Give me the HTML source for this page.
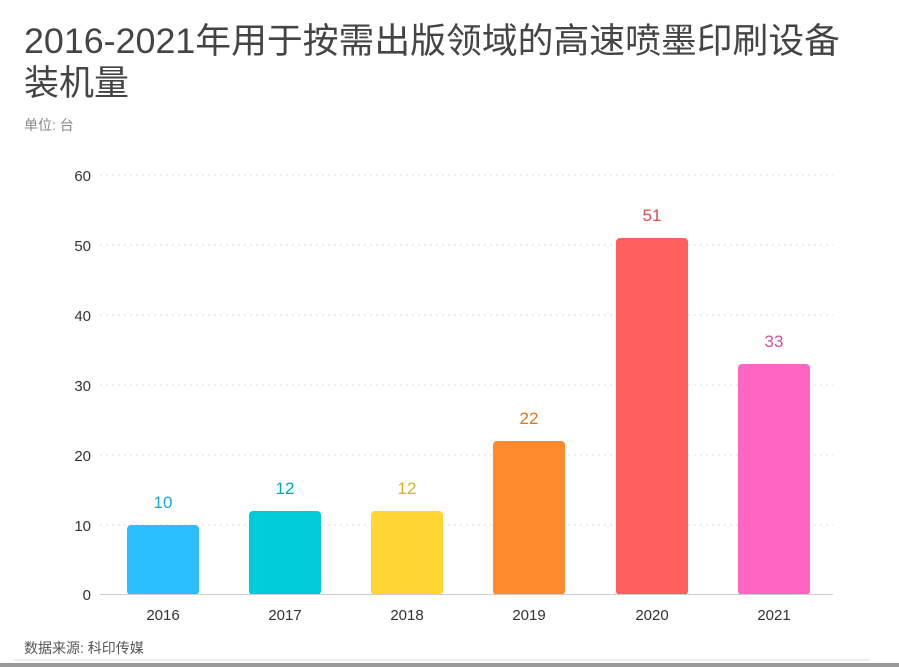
<!DOCTYPE html>
<html><head><meta charset="utf-8"><style>
body{margin:0;width:899px;height:667px;background:#fff;overflow:hidden;font-family:"Liberation Sans","Noto Sans CJK SC",sans-serif}
</style></head><body>
<svg width="899" height="667" xmlns="http://www.w3.org/2000/svg" style="position:absolute;left:0;top:0">
<g font-family="Liberation Sans, Noto Sans CJK SC, sans-serif">
<text x="24" y="53" font-size="35" fill="#444" textLength="816" lengthAdjust="spacingAndGlyphs">2016-2021年用于按需出版领域的高速喷墨印刷设备</text>
<text x="24" y="95" font-size="35" fill="#444">装机量</text>
<text x="24" y="130" font-size="14" fill="#888">单位: 台</text>
<g stroke="#ddd" stroke-dasharray="2,4">
<line x1="100" x2="833" y1="175" y2="175"/><line x1="100" x2="833" y1="245" y2="245"/>
<line x1="100" x2="833" y1="315" y2="315"/><line x1="100" x2="833" y1="385" y2="385"/>
<line x1="100" x2="833" y1="455" y2="455"/><line x1="100" x2="833" y1="525" y2="525"/>
</g>
<g font-size="15" fill="#333" text-anchor="end">
<text x="91" y="181">60</text><text x="91" y="251">50</text><text x="91" y="321">40</text>
<text x="91" y="391">30</text><text x="91" y="461">20</text><text x="91" y="531">10</text><text x="91" y="600">0</text>
</g>
<rect x="127" y="525" width="72" height="70" rx="4" fill="#2BBFFF"/>
<rect x="249" y="511" width="72" height="84" rx="4" fill="#00CBD8"/>
<rect x="371" y="511" width="72" height="84" rx="4" fill="#FFD633"/>
<rect x="493" y="441" width="72" height="154" rx="4" fill="#FF8A2E"/>
<rect x="616" y="238" width="72" height="357" rx="4" fill="#FF5F5F"/>
<rect x="738" y="364" width="72" height="231" rx="4" fill="#FF66C4"/>
<line x1="100" x2="833" y1="594.5" y2="594.5" stroke="#ccc"/>
<g font-size="17" text-anchor="middle">
<text x="163" y="508" fill="#1aa6d8">10</text>
<text x="285" y="494" fill="#00a9b4">12</text>
<text x="407" y="494" fill="#d9b21a">12</text>
<text x="529" y="424" fill="#e07420">22</text>
<text x="652" y="221" fill="#e04c4c">51</text>
<text x="774" y="347" fill="#d64ea6">33</text>
</g>
<g font-size="15" fill="#333" text-anchor="middle">
<text x="163" y="620">2016</text><text x="285" y="620">2017</text><text x="407" y="620">2018</text>
<text x="529" y="620">2019</text><text x="652" y="620">2020</text><text x="774" y="620">2021</text>
</g>
<text x="24" y="653" font-size="14" fill="#555">数据来源: 科印传媒</text>
<line x1="14" x2="870" y1="660" y2="660" stroke="#ddd"/>
<rect x="0" y="663" width="899" height="4" fill="#999"/>
</g>
</svg>
</body></html>
